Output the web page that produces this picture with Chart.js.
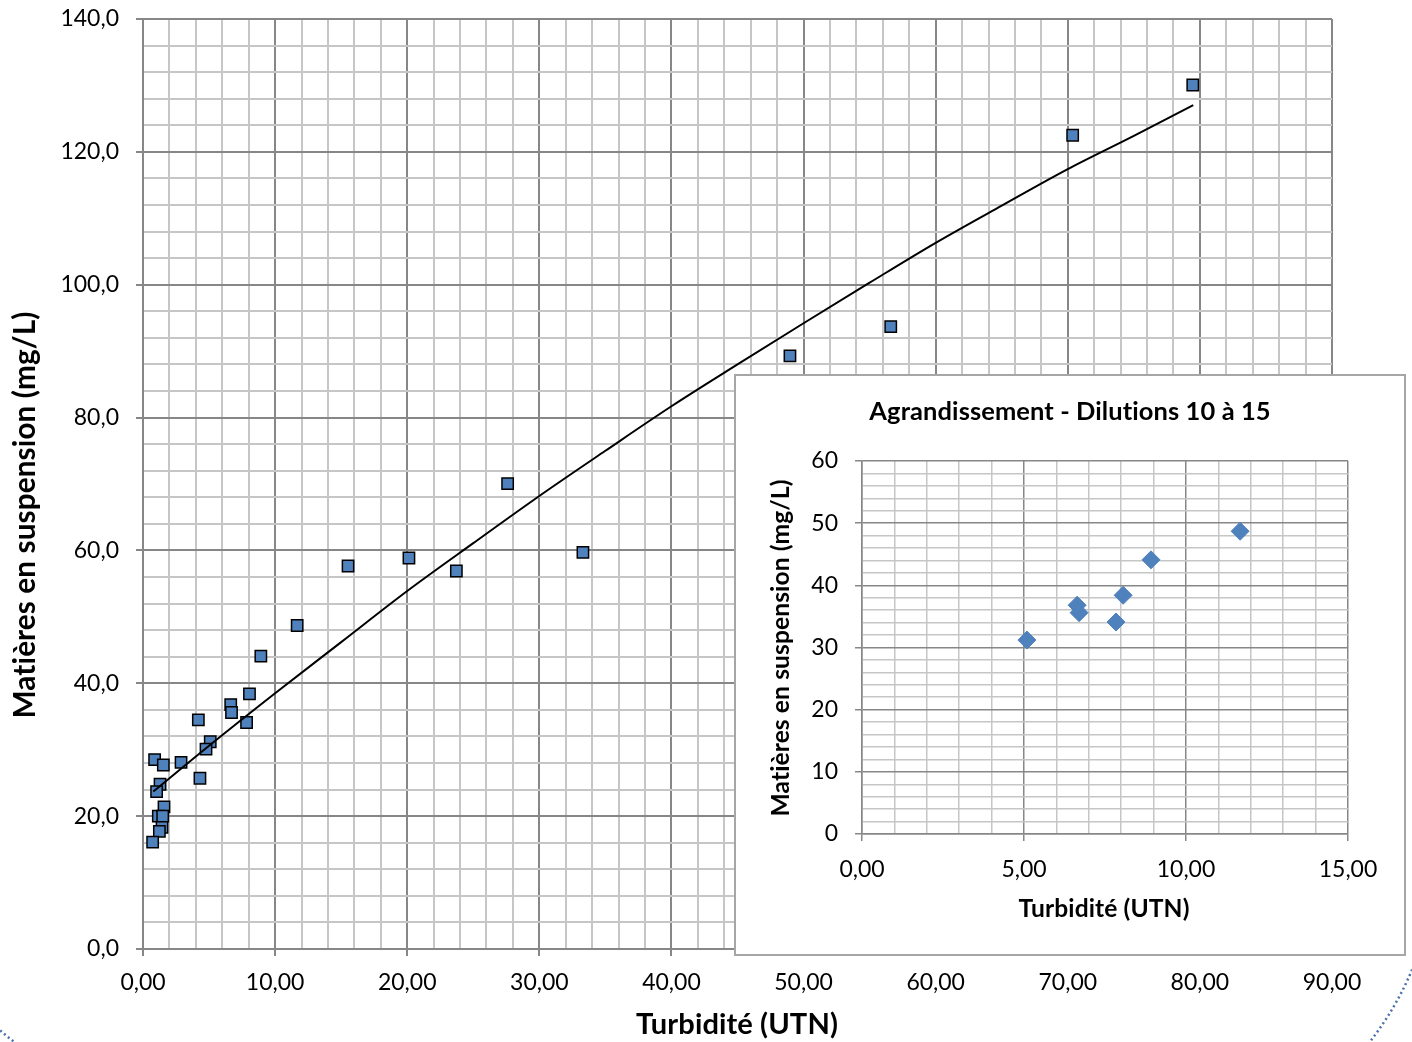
<!DOCTYPE html>
<html lang="fr">
<head>
<meta charset="utf-8">
<title>Matières en suspension / turbidité</title>
<script src="https://cdn.jsdelivr.net/npm/chart.js@4.4.1/dist/chart.umd.min.js"></script>
<style>
  html, body { margin: 0; padding: 0; background: #fff; }
  #wrap { position: relative; width: 1412px; height: 1042px; overflow: hidden; }
  #mainChart { position: absolute; left: 0; top: 0; }
  #inset {
    position: absolute; left: 734px; top: 374px; width: 672px; height: 582px;
    box-sizing: border-box; border: 2px solid #a6a6a6; background: #fff;
  }
  #insetChart { display: block; }
</style>
</head>
<body>
<div id="wrap">
  <canvas id="mainChart" width="1412" height="1042"></canvas>
  <div id="inset"><canvas id="insetChart" width="668" height="578"></canvas></div>
</div>
<script>
// Mesures : turbidité (UTN) et MES (mg/L)
const turbidite = [79.46, 70.37, 56.6, 48.97, 33.3, 27.6, 23.72, 20.13, 15.52, 11.67,
  8.92, 8.06, 7.84, 6.64, 6.70, 5.09, 4.77, 4.31, 4.19, 2.88,
  0.88, 1.54, 1.29, 1.03, 1.59, 1.16, 1.49, 1.44, 1.24, 0.73];
const mes = [130.06, 122.5, 93.7, 89.3, 59.7, 70.05, 56.9, 58.86, 57.66, 48.7,
  44.1, 38.4, 34.1, 36.8, 35.6, 31.2, 30.1, 25.7, 34.5, 28.1,
  28.5, 27.7, 24.8, 23.7, 21.4, 20.0, 20.0, 18.3, 17.7, 16.1];

// Courbe de tendance
const trendX = [0.78, 5, 10, 15, 20, 25, 30, 35, 40, 45, 50, 55, 60, 65, 70, 75, 79.5];
const trendY = [23.7, 30.6, 38.5, 46.2, 53.9, 61.1, 68.2, 75.0, 81.7, 88.0, 94.2, 100.3,
  106.3, 111.9, 117.4, 122.4, 127.05];

// Agrandissement : dilutions 10 à 15
const zoomMin = 5;
const zoomMax = 12;

const FONT = 'Lato, "Open Sans", sans-serif';
const MAJOR = '#878787';
const MINOR = '#c6c6c6';

const pts = turbidite.map((x, i) => ({ x, y: mes[i] }));
const trend = trendX.map((x, i) => ({ x, y: trendY[i] }));
const zoomPts = pts.filter(p => p.x >= zoomMin && p.x <= zoomMax);

const isMajor = (v, step) => Math.abs(v / step - Math.round(v / step)) < 1e-6;
const comma = (v, d) => v.toFixed(d).replace('.', ',');

function fitText(ctx, text, width, weight) {
  ctx.font = `${weight} 100px ${FONT}`;
  const size = 100 * width / ctx.measureText(text).width;
  ctx.font = `${weight} ${size}px ${FONT}`;
}

function drawLabel(ctx, text, x, y, width, rotate) {
  ctx.save();
  ctx.translate(x, y);
  if (rotate) ctx.rotate(-Math.PI / 2);
  ctx.letterSpacing = '0.1px'; // pas de ligature « ti »
  fitText(ctx, text, width, 'bold');
  ctx.fillStyle = '#000';
  ctx.textAlign = 'center';
  ctx.textBaseline = 'middle';
  ctx.fillText(text, 0, 0);
  ctx.restore();
}

function axis(min, max, step, majorStep, fmt, lw, opts) {
  return {
    type: 'linear', min, max,
    afterFit: opts.fit,
    ticks: {
      stepSize: step, autoSkip: false, maxRotation: 0, padding: opts.pad,
      color: '#000', font: { family: FONT, size: 23 },
      callback: v => isMajor(v, majorStep) ? fmt(v) : ''
    },
    grid: {
      color: c => isMajor(c.tick.value, majorStep) ? MAJOR : MINOR,
      lineWidth: lw, tickLength: 7, tickWidth: lw,
      tickColor: c => isMajor(c.tick.value, majorStep) ? MAJOR : 'rgba(0,0,0,0)'
    },
    border: { color: MAJOR, width: lw }
  };
}

const mainText = {
  id: 'mainText',
  afterDraw(chart) {
    const ctx = chart.ctx;
    drawLabel(ctx, 'Matières en suspension (mg/L)', 25, 515, 405, true);
    drawLabel(ctx, 'Turbidité (UTN)', 737, 1025, 201, false);
    // arcs pointillés du bas de page
    ctx.save();
    ctx.strokeStyle = '#4a72a8';
    ctx.lineWidth = 2.5;
    ctx.setLineDash([2, 3]);
    ctx.beginPath();
    ctx.arc(1125, 850, 311, 0.33, 0.78);
    ctx.stroke();
    ctx.beginPath();
    ctx.arc(200, 800, 305, 2.18, 2.42);
    ctx.stroke();
    ctx.restore();
  }
};

const insetText = {
  id: 'insetText',
  afterDraw(chart) {
    const ctx = chart.ctx;
    drawLabel(ctx, 'Agrandissement - Dilutions 10 à 15', 334, 36, 399, false);
    drawLabel(ctx, 'Matières en suspension (mg/L)', 45, 272, 335, true);
    drawLabel(ctx, 'Turbidité (UTN)', 368, 533, 170, false);
  }
};

new Chart(document.getElementById('mainChart'), {
  type: 'scatter',
  data: {
    datasets: [
      {
        type: 'line', label: 'Tendance', data: trend, order: 0,
        borderColor: '#000', borderWidth: 2, pointRadius: 0,
        cubicInterpolationMode: 'monotone', fill: false
      },
      {
        label: 'MES', data: pts, order: 1,
        pointStyle: 'rect', pointRadius: 8,
        backgroundColor: '#4f81bd', borderColor: '#000', borderWidth: 1.5
      }
    ]
  },
  options: {
    responsive: false, animation: false,
    layout: { padding: { left: 0, top: 19, right: 80, bottom: 0 } },
    plugins: { legend: { display: false }, tooltip: { enabled: false } },
    scales: {
      x: axis(0, 90, 2, 10, v => comma(v, 2), 2, { pad: 13, fit: s => { s.height = 93; } }),
      y: axis(0, 140, 4, 20, v => comma(v, 1), 2, {
        pad: 17,
        fit: s => { s.width = 143; s.paddingTop = 0; s.paddingBottom = 0; }
      })
    }
  },
  plugins: [mainText]
});

new Chart(document.getElementById('insetChart'), {
  type: 'scatter',
  data: {
    datasets: [{
      label: 'Dilutions 10 à 15', data: zoomPts,
      pointStyle: 'rectRot', pointRadius: 9,
      backgroundColor: '#4f81bd', borderColor: '#4f81bd', borderWidth: 1
    }]
  },
  options: {
    responsive: false, animation: false,
    layout: { padding: { left: 0, top: 85, right: 56, bottom: 0 } },
    plugins: { legend: { display: false }, tooltip: { enabled: false } },
    scales: {
      x: axis(0, 15, 1, 5, v => comma(v, 2), 1.5, { pad: 15, fit: s => { s.height = 120; } }),
      y: axis(0, 60, 2, 10, v => String(v), 1.5, { pad: 17, fit: s => { s.width = 126; } })
    }
  },
  plugins: [insetText]
});
</script>
</body>
</html>
